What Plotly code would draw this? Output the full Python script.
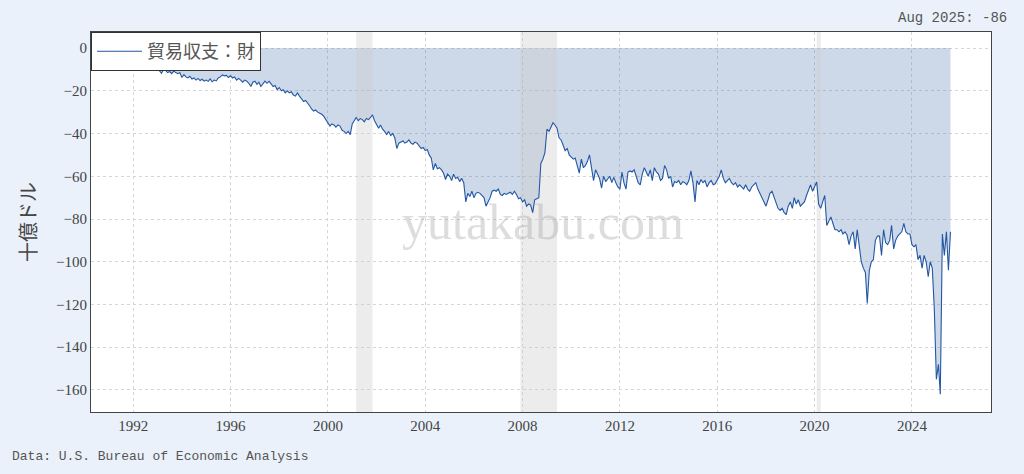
import pandas as pd
import plotly.graph_objs as go


# monthly goods trade balance, billions of USD (Jan 1992 - Aug 2025)
start_month = '1992-01-01'
balance = [
    # 1992
    -6.5, -7.5, -8.0, -8.5, -9.5, -8.5, -9.0, -8.0, -8.5, -9.0, -8.5, -10.0,
    # 1993
    -9.5, -11.0, -11.8, -10.0, -10.5, -11.5, -11.0, -12.0, -10.8, -11.5, -12.0, -11.5,
    # 1994
    -13.8, -12.5, -13.5, -14.0, -13.2, -14.5, -14.0, -15.0, -14.2, -15.2, -14.6, -15.5,
    # 1995
    -15.0, -15.6, -14.5, -15.8, -15.0, -15.4, -14.0, -13.5, -12.6, -13.0, -12.8, -13.8,
    # 1996
    -13.0, -14.0, -13.5, -15.0, -14.2, -15.0, -16.0, -15.0, -15.5, -16.5, -18.0, -16.0,
    # 1997
    -15.5, -17.0, -16.0, -18.0, -16.5, -15.5, -16.5, -15.6, -16.8, -18.0, -17.5, -19.5,
    # 1998
    -18.5, -20.0, -19.5, -21.0, -20.0, -21.0, -20.5, -22.0, -22.5, -21.0, -22.5, -23.5,
    # 1999
    -25.0, -24.5, -26.0, -27.0, -28.5, -29.5, -29.0, -30.0, -30.5, -31.0, -32.0, -33.5,
    # 2000
    -35.0, -36.5, -35.5, -36.0, -37.0, -36.0, -36.5, -38.5, -39.0, -40.0, -39.0, -40.5,
    # 2001
    -35.5, -34.0, -32.5, -34.0, -33.0, -33.5, -34.5, -33.0, -33.5, -32.5, -31.3, -34.0,
    # 2002
    -36.0, -37.5, -36.0, -38.0, -39.0, -40.5, -39.0, -41.0, -40.0, -42.0, -47.0, -44.5,
    # 2003
    -44.0, -43.5, -44.5, -44.0, -43.0, -44.5, -45.0, -44.0, -44.5, -45.5, -47.0, -46.5,
    # 2004
    -48.0, -47.5, -50.0, -51.5, -57.0, -54.0, -56.5, -56.0, -57.0, -58.5, -61.5, -59.0,
    # 2005
    -60.0, -62.0, -59.0, -61.0, -60.5, -62.5, -61.0, -63.0, -72.0, -68.0, -69.5, -67.0,
    # 2006
    -70.0, -68.0, -67.5, -68.0, -69.0, -70.0, -74.0, -72.0, -70.0, -67.0, -66.5, -67.0,
    # 2007
    -66.0, -68.5, -69.0, -68.0, -68.5, -68.0, -67.5, -68.5, -67.0, -68.5, -70.5, -70.0,
    # 2008
    -72.0, -71.0, -74.0, -73.0, -73.5, -77.0, -71.0, -70.5, -70.0, -54.0, -52.0, -49.0,
    # 2009
    -38.0, -39.0, -37.0, -35.0, -36.0, -37.5, -42.0, -43.0, -45.5, -48.0, -47.0, -50.0,
    # 2010
    -51.0, -52.0, -51.5, -55.0, -58.5, -52.0, -56.0, -55.0, -53.0, -50.0, -55.5, -62.0,
    # 2011
    -57.0, -59.0, -61.0, -65.5, -60.0, -62.5, -61.0, -60.0, -63.0, -60.5, -63.0, -65.0,
    # 2012
    -66.0, -58.0, -63.0, -66.0, -58.0, -57.5, -58.0, -57.0, -60.0, -63.0, -64.0, -59.0,
    # 2013
    -56.0, -58.0, -60.0, -57.0, -62.0, -56.0, -58.0, -59.0, -62.0, -61.0, -55.0, -57.0,
    # 2014
    -61.0, -60.0, -65.0, -62.5, -63.0, -62.0, -64.0, -62.5, -63.0, -64.0, -62.0, -57.5,
    # 2015
    -63.0, -72.0, -62.0, -64.0, -61.5, -63.0, -62.0, -65.0, -63.0, -62.0, -64.0, -63.5,
    # 2016
    -62.0, -60.0, -57.0, -61.0, -63.0, -62.0, -61.0, -63.0, -64.0, -63.0, -65.0, -64.0,
    # 2017
    -65.0, -66.0, -64.0, -66.0, -67.0, -65.0, -64.0, -63.0, -66.0, -68.0, -70.0, -72.0,
    # 2018
    -74.0, -71.0, -68.0, -67.0, -70.0, -72.0, -75.0, -76.0, -75.0, -77.0, -78.0, -74.0,
    # 2019
    -72.0, -75.0, -70.0, -73.0, -71.0, -74.0, -73.0, -72.0, -69.0, -66.0, -64.0, -67.0,
    # 2020
    -65.0, -62.7, -73.0, -75.0, -72.0, -69.0, -83.0, -81.0, -79.0, -82.0, -85.0, -85.0,
    # 2021
    -86.0, -85.0, -87.0, -86.0, -87.5, -92.0, -88.0, -86.0, -94.0, -85.0, -94.0, -100.0,
    # 2022
    -103.0, -105.0, -119.5, -104.0, -100.0, -99.0, -90.0, -88.0, -88.0, -97.0, -85.0, -91.0,
    # 2023
    -92.0, -90.0, -83.0, -94.0, -90.0, -88.0, -87.0, -86.0, -82.0, -86.0, -87.0, -87.0,
    # 2024
    -92.0, -93.0, -92.0, -99.0, -97.0, -103.0, -97.0, -100.0, -107.0, -100.0, -103.0, -122.0,
    # 2025
    -155.0, -148.0, -162.0, -87.0, -97.0, -86.0, -104.0, -86.0,
]

recession_start = ['2001-03-01', '2007-12-01', '2020-02-01']
recession_end = ['2001-11-01', '2009-06-01', '2020-04-01']

series_name = '貿易収支：財'
y_title = '十億ドル'
source_text = 'Data: U.S. Bureau of Economic Analysis'
watermark = 'yutakabu.com'

x_range = ['1990-04-08', '2027-04-01']
y_range = [-170.3, 7.5]


#####################################################################################
# Figure
#####################################################################################
dates = pd.date_range(start_month, periods=len(balance), freq='MS')
last_label = f"{dates[-1].strftime('%b %Y')}: {balance[-1]:.0f}"

serif = 'Liberation Serif, Noto Sans CJK JP'
mono = 'Liberation Mono, Noto Sans CJK JP'
bg = '#eaf1fa'

data = []
# area between zero and the series
data.append(go.Scatter(x=dates, y=balance, mode='lines', fill='tozeroy', line=dict(width=0),
                       fillcolor='rgba(74,114,176,0.28)', hoverinfo='skip', showlegend=False))

# recession bands
for rs, re in zip(recession_start, recession_end):
    data.append(go.Scatter(x=[rs, rs, re, re], y=[y_range[0], y_range[1], y_range[1], y_range[0]],
                           mode='lines', fill='toself', line=dict(width=0),
                           fillcolor='rgba(205,205,205,0.38)', hoverinfo='skip', showlegend=False))

data.append(go.Scatter(x=dates, y=balance, mode='lines', name=series_name,
                       line=dict(color='#2457a3', width=1.1)))

axis_common = dict(showgrid=True, gridcolor='#d6d6d6', griddash='3px,3px', gridwidth=1,
                   showline=True, linecolor='#444', linewidth=1, mirror=True, ticks='',
                   zeroline=False, tickfont=dict(family=serif, size=15, color='#444'))

layout = go.Layout(
    paper_bgcolor=bg, plot_bgcolor='white',
    margin=dict(l=83, r=25, t=24, b=54),
    xaxis=dict(type='date', range=x_range, tick0='1992-01-01', dtick='M48', tickformat='%Y', **axis_common),
    yaxis=dict(range=y_range, dtick=20, title=dict(text=y_title, standoff=14,
               font=dict(family=serif, size=20, color='#444')), **axis_common),
    legend=dict(x=0, y=1, xanchor='left', yanchor='top', bgcolor='white', bordercolor='#333',
                borderwidth=1, font=dict(family=serif, size=18, color='#555'), itemwidth=45),
    showlegend=True,
    annotations=[
        dict(text=last_label, xref='paper', yref='paper', x=1.02, y=1.037, xanchor='right', yanchor='middle',
             showarrow=False, font=dict(family=mono, size=14, color='#555')),
        dict(text=source_text, xref='paper', yref='paper', x=-0.09, y=-0.116, xanchor='left', yanchor='middle',
             showarrow=False, font=dict(family=mono, size=13, color='#555')),
        dict(text=watermark, xref='paper', yref='paper', x=0.502, y=0.5, xanchor='center', yanchor='middle',
             showarrow=False, font=dict(family=serif, size=50, color='rgba(170,170,170,0.4)')),
    ],
)

fig = go.Figure(data=data, layout=layout)
fig.write_html("out.html", post_script=f"document.body.style.background='{bg}';")
